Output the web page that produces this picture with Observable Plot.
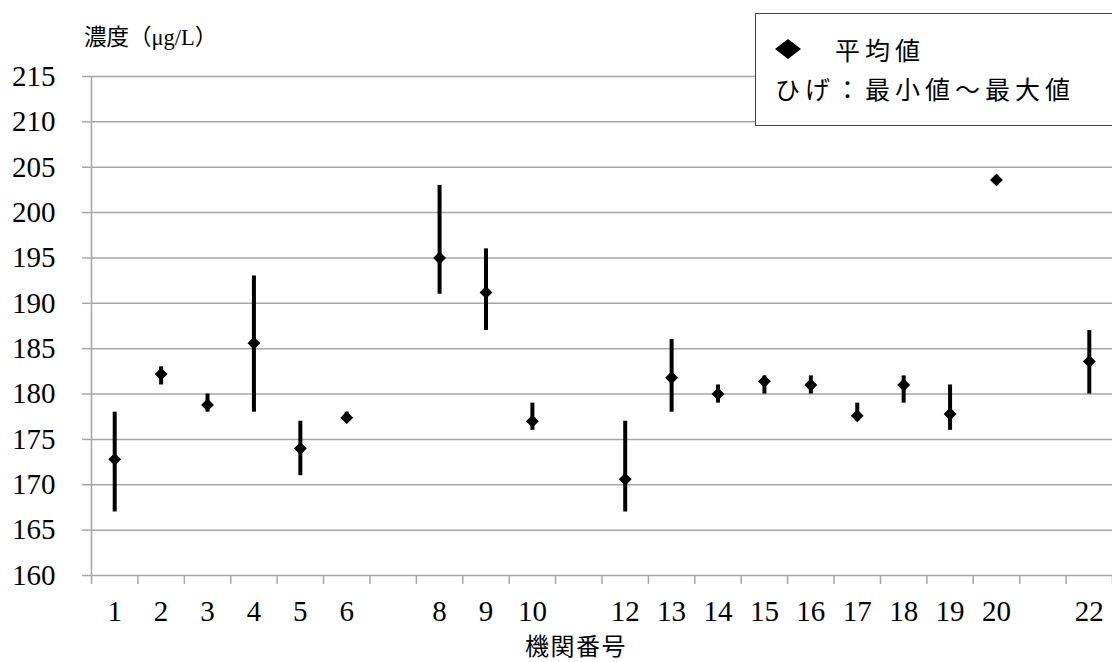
<!DOCTYPE html>
<html>
<head>
<meta charset="utf-8">
<script src="https://cdn.jsdelivr.net/npm/d3@7"></script>
<script src="https://cdn.jsdelivr.net/npm/@observablehq/plot@0.6"></script>
<style>
  body { margin: 0; background: #fff; }
  #chart { position: relative; width: 1112px; height: 662px; overflow: hidden;
           font-family: "Liberation Serif", "Noto Sans CJK JP", serif; color: #000; }
  #chart > svg { position: absolute; left: 0; top: 0; }
  .ytitle { position: absolute; left: 84px; top: 27px; font-size: 22.5px; line-height: 1; white-space: nowrap; }
  .xtitle { position: absolute; left: 525px; top: 633px; font-size: 24px; line-height: 1; letter-spacing: 1.5px;
            font-family: "Noto Sans CJK JP", sans-serif; white-space: nowrap; }
  .legend { position: absolute; left: 755px; top: 13px; width: 400px; height: 111px;
            border: 1.5px solid #404040; background: #fff;
            font-family: "Noto Sans CJK JP", sans-serif; font-size: 25px; line-height: 1; letter-spacing: 5px; }
  .legend span { position: absolute; white-space: nowrap; }
  #chart .legend svg { position: absolute; left: 19px; top: 25px; }
</style>
</head>
<body>
<div id="chart">
  <div class="ytitle">濃度（μg/L）</div>
  <div class="xtitle">機関番号</div>
  <div class="legend">
    <svg width="26" height="20" viewBox="0 0 26 20"><polygon points="0,10 13,0 26,10 13,20" fill="#000"/></svg>
    <span style="left:79px; top:23px;">平均値</span>
    <span style="left:19px; top:62px;">ひげ：最小値～最大値</span>
  </div>
</div>
<script>
// Institution numbers that reported results (7, 11 and 21 have no entry)
const ids   = [1, 2, 3, 4, 5, 6, 8, 9, 10, 12, 13, 14, 15, 16, 17, 18, 19, 20, 22];
// Mean concentration (µg/L) per institution
const means = [172.8, 182.2, 178.8, 185.6, 174.0, 177.4, 195.0, 191.2, 177.0, 170.6,
               181.8, 180.0, 181.4, 181.0, 177.6, 181.0, 177.8, 203.6, 183.6];
// Minimum and maximum of the repeated measurements
const mins  = [167, 181, 178, 178, 171, 177, 191, 187, 176, 167,
               178, 179, 180, 180, 177, 179, 176, 203.6, 180];
const maxs  = [178, 183, 180, 193, 177, 178, 203, 196, 179, 177,
               186, 181, 182, 182, 179, 182, 181, 203.6, 187];

// Axis settings
const slotCount = 22;
const yTicks = [160, 165, 170, 175, 180, 185, 190, 195, 200, 205, 210, 215];
const slotEdges = d3.range(0, slotCount + 1).map(i => i + 0.5);

const data = ids.map((id, i) => ({id, mean: means[i], min: mins[i], max: maxs[i]}));

const gray = "#a6a6a6";
const serif = "'Liberation Serif', 'Times New Roman', serif";

const chart = Plot.plot({
  width: 1112,
  height: 662,
  marginLeft: 91,
  marginRight: 0,
  marginTop: 76,
  marginBottom: 87,
  x: {type: "linear", domain: [0.5, slotCount + 0.5]},
  y: {domain: [160, 215]},
  style: {fontFamily: serif, fontSize: "28px", color: "#000", background: "transparent"},
  marks: [
    Plot.gridY(yTicks, {stroke: gray, strokeOpacity: 1, strokeWidth: 1.5}),
    Plot.axisY(yTicks, {tickSize: 9, tickPadding: 27, stroke: gray, strokeWidth: 1.5, fill: "#000",
                        fontSize: 29, fontFamily: serif, label: null}),
    Plot.axisX(slotEdges, {tickSize: 9, tickFormat: () => "", stroke: gray, strokeWidth: 1.5, label: null}),
    Plot.axisX(ids, {tickSize: 0, tickPadding: 25, fill: "#000", fontSize: 29, fontFamily: serif, label: null}),
    Plot.ruleX([0.5], {stroke: gray, strokeWidth: 1.5}),
    // min–max whiskers
    Plot.ruleX(data, {x: "id", y1: "min", y2: "max", stroke: "#000", strokeWidth: 4}),
    // mean markers
    Plot.dot(data, {x: "id", y: "mean", symbol: "diamond2", r: 5.8, fill: "#000", stroke: null})
  ]
});

document.getElementById("chart").prepend(chart);
</script>
</body>
</html>
